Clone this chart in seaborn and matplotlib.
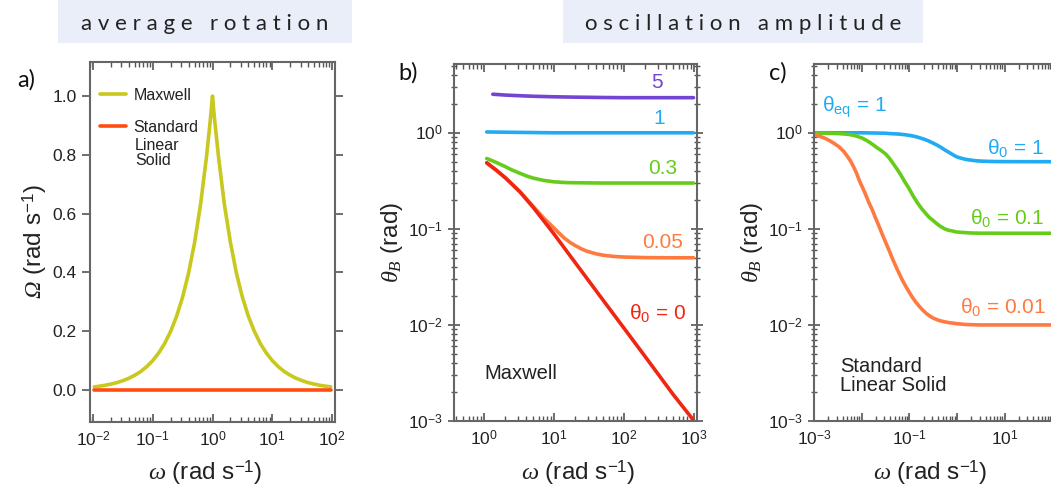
import numpy as np
import pandas as pd
import matplotlib
matplotlib.use("Agg")
import matplotlib.pyplot as plt
import seaborn as sns
from matplotlib.ticker import LogLocator, NullFormatter
from matplotlib.patches import Rectangle

# ---------------- data ----------------
# panel a: average rotation
omega_a = [0.0105, 0.0126, 0.0158, 0.02, 0.0251, 0.0316, 0.0398, 0.0501, 0.0631, 0.0794,
           0.1, 0.126, 0.158, 0.2, 0.251, 0.316, 0.398, 0.501, 0.631, 0.794, 0.9, 0.95,
           1.0, 1.05, 1.11, 1.26, 1.58, 2.0, 2.51, 3.16, 3.98, 5.01, 6.31, 7.94,
           10.0, 12.6, 15.8, 20.0, 25.1, 31.6, 39.8, 50.1, 63.1, 79.4, 95.0]
rot_maxwell = [0.0105, 0.0126, 0.0158, 0.02, 0.0251, 0.0316, 0.0398, 0.0501, 0.0631, 0.0794,
               0.1, 0.126, 0.158, 0.2, 0.251, 0.316, 0.398, 0.501, 0.631, 0.794, 0.9, 0.95,
               1.0, 0.95, 0.9, 0.794, 0.631, 0.501, 0.398, 0.316, 0.251, 0.2, 0.158, 0.126,
               0.1, 0.0794, 0.0631, 0.0501, 0.0398, 0.0316, 0.0251, 0.02, 0.0158, 0.0126, 0.0105]
omega_a_sls = [0.0105, 95.0]
rot_sls = [0.0, 0.0]

# panel b: Maxwell oscillation amplitude, one series per theta_0
omega_b0 = [1.09, 1.5, 2.0, 2.5, 3.27, 5.0, 7.0, 9.8, 20.0, 50.0, 100.0, 200.0, 500.0, 977.0]
amp_b0 = [0.487, 0.408, 0.341, 0.292, 0.241, 0.168, 0.123, 0.0897, 0.0445, 0.0181, 0.0092,
          0.00467, 0.00189, 0.00102]

omega_b005 = [1.09, 2.0, 3.27, 5.0, 7.0, 9.8, 12.0, 14.0, 17.0, 20.0, 25.0, 30.0, 40.0,
              50.5, 70.0, 100.0, 200.0, 500.0, 977.0]
amp_b005 = [0.487, 0.341, 0.243, 0.172, 0.131, 0.103, 0.089, 0.080, 0.072, 0.067, 0.0614,
            0.0582, 0.0549, 0.0531, 0.0517, 0.0509, 0.0502, 0.0500, 0.0500]

omega_b03 = [1.09, 1.5, 2.0, 2.5, 3.27, 4.0, 5.0, 7.0, 9.8, 15.0, 20.0, 50.0, 100.0, 977.0]
amp_b03 = [0.54, 0.49, 0.445, 0.41, 0.378, 0.356, 0.338, 0.32, 0.309, 0.303, 0.302, 0.3, 0.3, 0.3]

omega_b1 = [1.09, 3.0, 10.0, 100.0, 977.0]
amp_b1 = [1.02, 1.01, 1.0, 1.0, 1.0]

omega_b5 = [1.33, 2.0, 3.27, 5.0, 9.8, 20.0, 50.5, 100.0, 189.0, 500.0, 977.0]
amp_b5 = [2.52, 2.47, 2.43, 2.40, 2.37, 2.35, 2.33, 2.32, 2.32, 2.32, 2.32]

# panel c: Standard Linear Solid oscillation amplitude
omega_c1 = [1e-3, 0.003, 0.01, 0.03, 0.04, 0.06, 0.08, 0.1, 0.12, 0.15, 0.2, 0.25, 0.3,
            0.37, 0.45, 0.55, 0.7, 0.85, 1.0, 1.2, 1.5, 1.8, 2.2, 2.7, 3.5, 6.0, 10.0,
            100.0, 1000.0]
amp_c1 = [1.0, 1.0, 1.0, 0.99, 0.98, 0.97, 0.955, 0.94, 0.925, 0.9, 0.86, 0.825, 0.79,
          0.75, 0.71, 0.665, 0.62, 0.585, 0.56, 0.545, 0.53, 0.522, 0.515, 0.51, 0.506,
          0.502, 0.501, 0.5, 0.5]

omega_c01 = [1e-3, 0.002, 0.003, 0.004, 0.0055, 0.0068, 0.008, 0.01, 0.0123, 0.015, 0.018,
             0.021, 0.025, 0.032, 0.038, 0.045, 0.055, 0.065, 0.08, 0.1, 0.12, 0.15, 0.18,
             0.22, 0.26, 0.31, 0.37, 0.45, 0.55, 0.65, 0.8, 0.95, 1.2, 2.0, 3.0, 10.0,
             100.0, 1000.0]
amp_c01 = [0.995, 0.99, 0.983, 0.975, 0.96, 0.94, 0.92, 0.885, 0.84, 0.79, 0.74,
           0.70, 0.66, 0.60, 0.545, 0.485, 0.42, 0.37, 0.31, 0.26, 0.22, 0.185, 0.163,
           0.145, 0.132, 0.123, 0.114, 0.106, 0.1, 0.097, 0.095, 0.093, 0.092, 0.0905,
           0.0902, 0.09, 0.09, 0.09]

omega_c001 = [1e-3, 0.00125, 0.0015, 0.0018, 0.0022, 0.0027, 0.0034, 0.0042, 0.005, 0.0059,
              0.0068, 0.0078, 0.0089, 0.0104, 0.012, 0.014, 0.0165, 0.0195, 0.0234, 0.027,
              0.032, 0.038, 0.045, 0.053, 0.0617, 0.072, 0.085, 0.1, 0.115, 0.135, 0.162,
              0.19, 0.23, 0.27, 0.32, 0.427, 0.55, 0.7, 1.0, 1.55, 3.0, 10.0, 100.0, 1000.0]
amp_c001 = [0.95, 0.925, 0.9, 0.865, 0.82, 0.77, 0.71, 0.64, 0.57, 0.505,
            0.44, 0.38, 0.32, 0.27, 0.23, 0.19, 0.16, 0.13, 0.105, 0.088,
            0.072, 0.059, 0.048, 0.040, 0.034, 0.029, 0.025, 0.0218, 0.0195, 0.0174, 0.0156,
            0.0143, 0.0131, 0.01236, 0.01175, 0.0111, 0.01077, 0.01054, 0.0103, 0.0101, 0.01,
            0.01, 0.01, 0.01]

# ---------------- style ----------------
sns.set_style("ticks")
plt.rcParams["font.family"] = ["Liberation Sans", "DejaVu Sans"]
plt.rcParams.update({
    "mathtext.fontset": "custom",
    "mathtext.rm": "Liberation Sans",
    "mathtext.it": "Liberation Serif:italic",
    "mathtext.sf": "Liberation Serif:italic",
    "mathtext.bf": "Liberation Sans:bold",
    "axes.edgecolor": "#666666",
    "axes.linewidth": 1.5,
    "xtick.color": "#555555",
    "ytick.color": "#555555",
    "xtick.labelcolor": "#222222",
    "ytick.labelcolor": "#222222",
})

C_YEL = "#c8c81e"
C_SLS = "#ff4d12"
C_PUR = "#7444d2"
C_BLU = "#22aaf2"
C_GRN = "#66cc1a"
C_ORG = "#ff7a40"
C_RED = "#f02612"
LW = 2.6
TXT = "#222222"

W, H = 1051, 490
fig = plt.figure(figsize=(W / 100, H / 100), dpi=100)


def rect(l, r, t, b):
    return [l / W, (H - b) / H, (r - l) / W, (b - t) / H]


ax_a = fig.add_axes(rect(90, 335, 62, 422))
ax_b = fig.add_axes(rect(454, 697, 64, 421))
ax_c = fig.add_axes(rect(814, 1100, 64, 421))

# ---------------- panel a ----------------
sns.lineplot(x=omega_a, y=rot_maxwell, ax=ax_a, color=C_YEL, lw=LW, label="Maxwell")
sns.lineplot(x=omega_a_sls, y=rot_sls, ax=ax_a, color=C_SLS, lw=LW, label="Standard")
ax_a.set_xscale("log")
ax_a.set_xlim(10 ** -2.05, 10 ** 2.05)
ax_a.set_ylim(-0.109, 1.116)
ax_a.set_yticks([0.0, 0.2, 0.4, 0.6, 0.8, 1.0])
ax_a.set_yticklabels(["0.0", "0.2", "0.4", "0.6", "0.8", "1.0"])
ax_a.set_xticks([1e-2, 1e-1, 1e0, 1e1, 1e2])
ax_a.set_xticklabels([r"$10^{-2}$", r"$10^{-1}$", r"$10^{0}$", r"$10^{1}$", r"$10^{2}$"])
leg = ax_a.legend(loc="upper left", bbox_to_anchor=(10 / 245, (422 - 88) / 360),
                  frameon=False, fontsize=11.5, handlelength=1.6, handletextpad=0.5,
                  labelspacing=1.05, borderaxespad=0, borderpad=0)
for t in leg.get_texts():
    t.set_color(TXT)
ax_a.text((135 - 90) / 245, (422 - 138) / 360, "Linear\nSolid", transform=ax_a.transAxes,
          ha="left", va="top", fontsize=11.5, linespacing=1.0, color=TXT)
ax_a.set_ylabel(r"$\mathsf{\Omega}$ (rad s$^{-1}$)", fontsize=17.5, color=TXT, va="center")
ax_a.yaxis.set_label_coords((35 - 90) / 245, 0.5)
ax_a.set_xlabel(r"$\omega$ (rad s$^{-1}$)", fontsize=17.5, color=TXT, va="center")
ax_a.xaxis.set_label_coords((205 - 90) / 245, -(473 - 422) / 360)

# ---------------- panel b ----------------
sns.lineplot(x=omega_b5, y=amp_b5, ax=ax_b, color=C_PUR, lw=LW)
sns.lineplot(x=omega_b1, y=amp_b1, ax=ax_b, color=C_BLU, lw=LW)
sns.lineplot(x=omega_b03, y=amp_b03, ax=ax_b, color=C_GRN, lw=LW)
sns.lineplot(x=omega_b005, y=amp_b005, ax=ax_b, color=C_ORG, lw=LW)
sns.lineplot(x=omega_b0, y=amp_b0, ax=ax_b, color=C_RED, lw=LW)
ax_b.set_xscale("log")
ax_b.set_yscale("log")
ax_b.set_xlim(10 ** -0.43, 10 ** 3.04)
ax_b.set_ylim(1e-3, 10 ** 0.716)
ax_b.set_xticks([1e0, 1e1, 1e2, 1e3])
ax_b.set_xticklabels([r"$10^{0}$", r"$10^{1}$", r"$10^{2}$", r"$10^{3}$"])
ax_b.set_yticks([1e-3, 1e-2, 1e-1, 1e0])
ax_b.set_yticklabels([r"$10^{-3}$", r"$10^{-2}$", r"$10^{-1}$", r"$10^{0}$"])


def bpos(px, py):
    return ((px - 454) / 243, (421 - py) / 357)


for lab, (px, py), col in [("5", (657, 82), C_PUR), ("1", (659, 118), C_BLU),
                           ("0.3", (663, 168), C_GRN), ("0.05", (663, 242), C_ORG),
                           (r"$\mathrm{\theta}_0$ = 0", (658, 313), C_RED)]:
    ax_b.text(*bpos(px, py), lab, transform=ax_b.transAxes, ha="center", va="center",
              fontsize=15, color=col)
ax_b.text(*bpos(484, 373), "Maxwell", transform=ax_b.transAxes, ha="left", va="center",
          fontsize=14.5, color=TXT)
ax_b.set_ylabel(r"$\theta_B$ (rad)", fontsize=17.5, color=TXT, va="center")
ax_b.yaxis.set_label_coords((392 - 454) / 243, 0.5)
ax_b.set_xlabel(r"$\omega$ (rad s$^{-1}$)", fontsize=17.5, color=TXT, va="center")
ax_b.xaxis.set_label_coords((578 - 454) / 243, -(473 - 421) / 357)

# ---------------- panel c ----------------
sns.lineplot(x=omega_c1, y=amp_c1, ax=ax_c, color=C_BLU, lw=LW)
sns.lineplot(x=omega_c01, y=amp_c01, ax=ax_c, color=C_GRN, lw=LW)
sns.lineplot(x=omega_c001, y=amp_c001, ax=ax_c, color=C_ORG, lw=LW)
ax_c.set_xscale("log")
ax_c.set_yscale("log")
ax_c.set_xlim(1e-3, 1e3)
ax_c.set_ylim(1e-3, 10 ** 0.716)
ax_c.set_xticks([1e-3, 1e-2, 1e-1, 1e0, 1e1, 1e2, 1e3])
ax_c.set_xticklabels([r"$10^{-3}$", "", r"$10^{-1}$", "", r"$10^{1}$", "", ""])
ax_c.set_yticks([1e-3, 1e-2, 1e-1, 1e0])
ax_c.set_yticklabels([r"$10^{-3}$", r"$10^{-2}$", r"$10^{-1}$", r"$10^{0}$"])


def cpos(px, py):
    return ((px - 814) / 286, (421 - py) / 357)


ax_c.text(*cpos(822, 107), r"$\mathrm{\theta}_{\mathrm{eq}}$ = 1", transform=ax_c.transAxes,
          ha="left", va="center", fontsize=15, color=C_BLU)
for lab, (px, py), col in [(r"$\mathrm{\theta}_0$ = 1", (1015, 148), C_BLU),
                           (r"$\mathrm{\theta}_0$ = 0.1", (1007, 218), C_GRN),
                           (r"$\mathrm{\theta}_0$ = 0.01", (1003, 307), C_ORG)]:
    ax_c.text(*cpos(px, py), lab, transform=ax_c.transAxes, ha="center", va="center",
              fontsize=15, color=col)
ax_c.text(*cpos(840, 376), "Standard\nLinear Solid", transform=ax_c.transAxes,
          ha="left", va="center", fontsize=14.5, color=TXT, linespacing=1.05)
ax_c.set_ylabel(r"$\theta_B$ (rad)", fontsize=17.5, color=TXT, va="center")
ax_c.yaxis.set_label_coords((752 - 814) / 286, 0.5)
ax_c.set_xlabel(r"$\omega$ (rad s$^{-1}$)", fontsize=17.5, color=TXT, va="center")
ax_c.xaxis.set_label_coords((930 - 814) / 286, -(473 - 421) / 357)

# ---------------- ticks ----------------
for ax in (ax_a, ax_b, ax_c):
    ax.xaxis.set_minor_locator(LogLocator(base=10, subs=np.arange(2, 10), numticks=50))
    ax.xaxis.set_minor_formatter(NullFormatter())
    ax.tick_params(axis="x", which="both", direction="in", top=True, bottom=True,
                   labelsize=12.5, pad=6)
    ax.tick_params(axis="x", which="major", length=6, width=1.2)
    ax.tick_params(axis="x", which="minor", length=3.5, width=1.0)
    ax.tick_params(axis="y", which="both", left=True, right=True, labelsize=12.5)
    for s in ax.spines.values():
        s.set_visible(True)

ax_a.tick_params(axis="y", which="major", direction="out", length=6, width=1.2)
for ax in (ax_b, ax_c):
    ax.yaxis.set_minor_locator(LogLocator(base=10, subs=np.arange(2, 10), numticks=50))
    ax.yaxis.set_minor_formatter(NullFormatter())
    ax.tick_params(axis="y", which="major", direction="inout", length=9, width=1.2)
    ax.tick_params(axis="y", which="minor", direction="inout", length=5, width=1.0)

# ---------------- panel letters and section headers ----------------
for lab, (px, py) in [("a)", (26, 80)), ("b)", (408, 73)), ("c)", (778, 73))]:
    fig.text(px / W, 1 - py / H, lab, ha="center", va="center", fontsize=17,
             family=["Lato", "DejaVu Sans"], color="#111111")

for (l, r), title in [((58, 352), "a v e r a g e   r o t a t i o n"),
                      ((563, 923), "o s c i l l a t i o n   a m p l i t u d e")]:
    fig.patches.append(Rectangle((l / W, 1 - 43 / H), (r - l) / W, 43 / H,
                                 transform=fig.transFigure, facecolor="#e9eef9",
                                 edgecolor="none", zorder=0))
    fig.text((l + r) / 2 / W, 1 - 24 / H, title, ha="center", va="center", fontsize=16,
             family=["Lato", "DejaVu Sans"], color="#222222")

fig.savefig("out.png", dpi=100)
